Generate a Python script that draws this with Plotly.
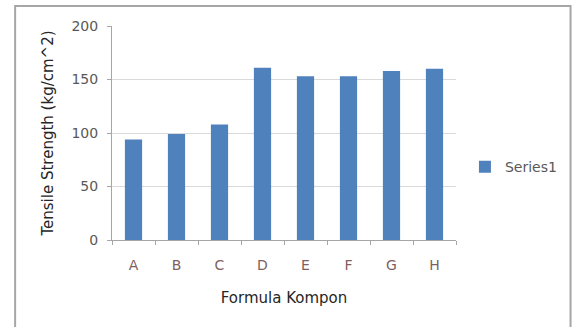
import plotly.graph_objects as go

# Tensile strength for each rubber compound formula
formulas = ["A", "B", "C", "D", "E", "F", "G", "H"]
tensile_strength = [94, 99, 108, 161, 153, 153, 158, 160]
y_ticks = [0, 50, 100, 150, 200]

fig = go.Figure()
fig.add_trace(go.Bar(
    x=formulas,
    y=tensile_strength,
    name="Series1",
    marker=dict(color="#4F81BD", line=dict(width=0)),
))

font_family = "DejaVu Sans"

fig.update_layout(
    width=574,
    height=327,
    margin=dict(l=112, r=114, t=26, b=87),
    paper_bgcolor="white",
    plot_bgcolor="white",
    bargap=0.6,
    font=dict(family=font_family, size=14, color="#595959"),
    showlegend=True,
    legend=dict(
        x=1.026, y=0.34, xanchor="left", yanchor="middle",
        font=dict(size=14, color="#595959"),
        bgcolor="rgba(0,0,0,0)",
    ),
    xaxis=dict(
        title=dict(text="Formula Kompon", font=dict(size=15, color="#262626"), standoff=20),
        showgrid=False,
        showline=True, linecolor="#A6A6A6", linewidth=1,
        ticks="outside", tickson="boundaries", ticklen=4, tickcolor="#A6A6A6",
        ticklabelstandoff=12,
        tickfont=dict(size=14, color="#7F5F5F"),
    ),
    yaxis=dict(
        title=dict(text="Tensile Strength (kg/cm^2)", font=dict(size=15, color="#262626"), standoff=14),
        range=[0, 200],
        tickvals=y_ticks,
        showgrid=True, gridcolor="#D9D9D9", gridwidth=1,
        zeroline=False,
        showline=True, linecolor="#A6A6A6", linewidth=1,
        ticks="outside", ticklen=4, tickcolor="#A6A6A6",
        ticklabelstandoff=6,
        tickfont=dict(size=14, color="#595959"),
    ),
)

# Chart-area frame (right and bottom edges run past the page)
fig.add_shape(
    type="rect", xref="paper", yref="paper",
    x0=-0.2816, x1=1.333, y0=-0.42, y1=1.0935,
    line=dict(color="#A6A6A6", width=2),
    fillcolor="rgba(0,0,0,0)", layer="below",
)

fig.write_html("out.html")
